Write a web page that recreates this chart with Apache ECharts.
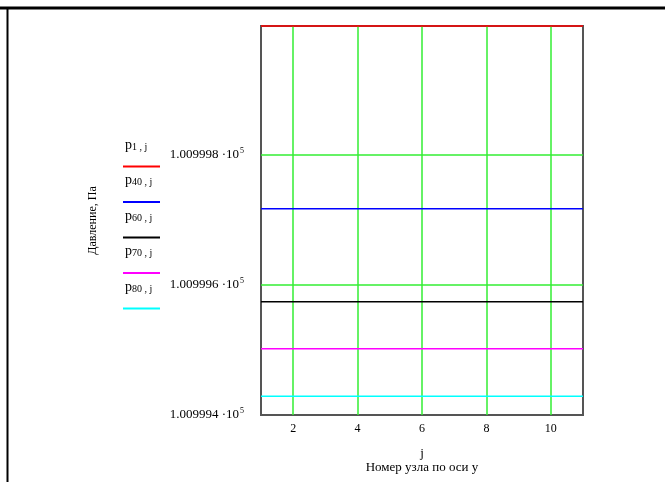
<!DOCTYPE html>
<html>
<head>
<meta charset="utf-8">
<script src="https://cdn.jsdelivr.net/npm/echarts@6/dist/echarts.min.js"></script>
<style>html,body{margin:0;padding:0;background:#fff}#c{width:665px;height:482px}</style>
</head>
<body>
<div id="c"></div>
<script>
// ---- data ----
var nodes = [1, 2, 3, 4, 5, 6, 7, 8, 9, 10, 11];
var p1  = [100999.998, 100999.998, 100999.998, 100999.998, 100999.998, 100999.998, 100999.998, 100999.998, 100999.998, 100999.998, 100999.998];
var p40 = [100999.717, 100999.717, 100999.717, 100999.717, 100999.717, 100999.717, 100999.717, 100999.717, 100999.717, 100999.717, 100999.717];
var p60 = [100999.574, 100999.574, 100999.574, 100999.574, 100999.574, 100999.574, 100999.574, 100999.574, 100999.574, 100999.574, 100999.574];
var p70 = [100999.502, 100999.502, 100999.502, 100999.502, 100999.502, 100999.502, 100999.502, 100999.502, 100999.502, 100999.502, 100999.502];
var p80 = [100999.429, 100999.429, 100999.429, 100999.429, 100999.429, 100999.429, 100999.429, 100999.429, 100999.429, 100999.429, 100999.429];
var seriesSubs = ['1 , j', '40 , j', '60 , j', '70 , j', '80 , j'];
var xTicks = [2, 4, 6, 8, 10];
var yTicks = [100999.4, 100999.6, 100999.8];
var yGrid = [100999.6, 100999.8];
var xName1 = 'j';
var xName2 = 'Номер узла по оси у';
var yName = 'Давление, Па';

var colors = ['#ff0000', '#0000ff', '#000000', '#ff00ff', '#00ffff'];
var seriesData = [p1, p40, p60, p70, p80];
var FONT = '"Liberation Serif", "DejaVu Serif", serif';

var chart = echarts.init(document.getElementById('c'), null, {renderer: 'canvas'});

var series = seriesData.map(function (arr, i) {
  return {
    type: 'line',
    name: 'p' + seriesSubs[i],
    data: nodes.map(function (x, k) { return [x, arr[k]]; }),
    showSymbol: false,
    clip: false,
    lineStyle: {color: colors[i], width: 1.5},
    z: 3
  };
});

var graphics = [
  {type: 'line', shape: {x1: 0, y1: 8, x2: 665, y2: 8}, style: {stroke: '#000', lineWidth: 3}},
  {type: 'line', shape: {x1: 7.5, y1: 8, x2: 7.5, y2: 482}, style: {stroke: '#000', lineWidth: 2}}
];
seriesSubs.forEach(function (s, i) {
  var y0 = 147 + 35.5 * i;
  graphics.push({
    type: 'text', left: 125, top: y0 - 9,
    style: {
      text: '{p|p}{b|' + s + '}',
      rich: {
        p: {fontFamily: FONT, fontSize: 14, fill: '#000', verticalAlign: 'bottom'},
        b: {fontFamily: FONT, fontSize: 10, fill: '#000', padding: [5, 0, 0, 0], verticalAlign: 'top'}
      }
    }
  });
  graphics.push({
    type: 'line',
    shape: {x1: 123, y1: y0 + 19.5, x2: 160, y2: y0 + 19.5},
    style: {stroke: colors[i], lineWidth: 2}
  });
});

chart.setOption({
  animation: false,
  backgroundColor: '#fff',
  grid: {left: 261, right: 82, top: 26, bottom: 67, show: true, borderColor: '#555', borderWidth: 2, backgroundColor: 'transparent'},
  xAxis: {
    type: 'value', min: 1, max: 11,
    name: xName1 + '\n' + xName2,
    nameLocation: 'middle', nameGap: 32,
    nameTextStyle: {fontFamily: FONT, fontSize: 13, color: '#000', lineHeight: 14},
    axisLine: {show: false},
    axisTick: {show: false, customValues: xTicks},
    axisLabel: {customValues: xTicks, fontFamily: FONT, fontSize: 12, color: '#000', margin: 8},
    splitLine: {show: true, lineStyle: {color: '#33ee33', width: 1.5}}
  },
  yAxis: {
    type: 'value', min: 100999.4, max: 100999.998,
    name: yName, nameLocation: 'middle', nameGap: 162, nameRotate: 90,
    nameTextStyle: {fontFamily: FONT, fontSize: 12, color: '#000'},
    axisLine: {show: false},
    axisTick: {show: false, customValues: yGrid},
    axisLabel: {
      customValues: yTicks, margin: 17,
      formatter: function (v) { return '{a|' + (v / 1e5).toFixed(6) + ' ·10}{s|5}'; },
      rich: {
        a: {fontFamily: FONT, fontSize: 13, color: '#000'},
        s: {fontFamily: FONT, fontSize: 8, color: '#000', padding: [0, 0, 8, 1]}
      }
    },
    splitLine: {show: true, lineStyle: {color: '#33ee33', width: 1.5}}
  },
  graphic: graphics,
  series: series
});
</script>
</body>
</html>
